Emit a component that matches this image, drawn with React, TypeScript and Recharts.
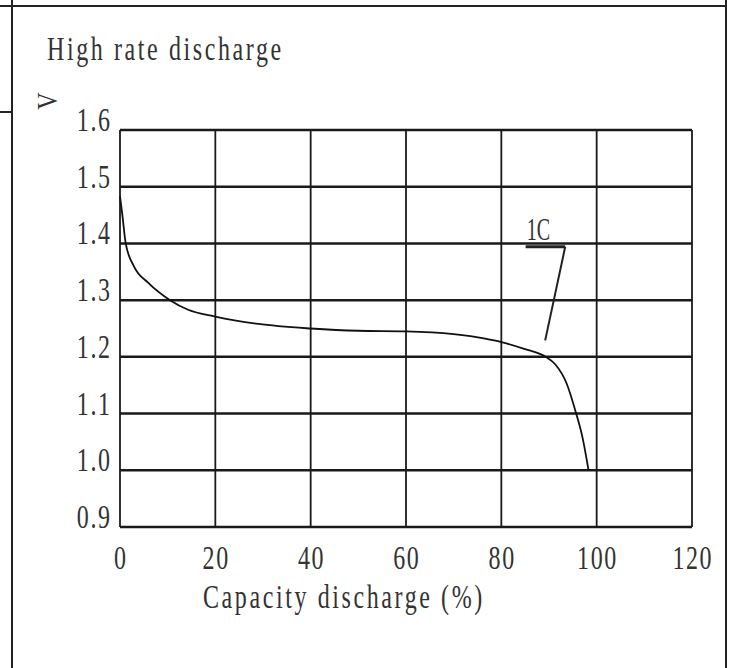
import React from 'react';
import { LineChart, Line, XAxis, YAxis, CartesianGrid, ReferenceLine, Customized } from 'recharts';

const capacity = [0, 0.5, 1.2, 2.9, 6, 10.5, 14.3, 20, 29, 40, 50, 60, 70, 76.6, 80, 84.8, 89.3, 91.3, 93.7, 95.7, 97, 98.3];
const voltage = [1.483, 1.45, 1.4, 1.36, 1.33, 1.3, 1.283, 1.271, 1.258, 1.25, 1.246, 1.245, 1.24, 1.232, 1.226, 1.214, 1.2, 1.187, 1.153, 1.1, 1.059, 1.0];
const xTicks = [0, 20, 40, 60, 80, 100, 120];
const yTicks = [0.9, 1.0, 1.1, 1.2, 1.3, 1.4, 1.5, 1.6];
const title = 'High rate discharge';
const xLabel = 'Capacity discharge (%)';
const yLabel = 'V';
const seriesName = '1C';
const annotX = [85.1, 93.4, 89.2];
const annotY = [1.394, 1.394, 1.229];

const data = capacity.map((c, i) => ({ c, v: voltage[i] }));

const FONT = '"Liberation Serif", serif';
const FS = 24;
const SY = 1.38;
const LS = 2.6;
const TLS = 1.6;
const COLOR = '#333';

const ScaledText = ({ x, y, anchor = 'start', children, size = FS, sy = SY, rotate = 0, ls = LS }: any) => (
  <g transform={`translate(${x},${y}) rotate(${rotate}) scale(1,${sy})`}>
    <text x={0} y={0} textAnchor={anchor} fontFamily={FONT} fontSize={size} fill={COLOR} letterSpacing={ls}>
      {children}
    </text>
  </g>
);

const YTick = (props: any) => {
  const { x, y, payload } = props;
  return <ScaledText x={x + TLS} y={y + 1} anchor="end" ls={TLS}>{Number(payload.value).toFixed(1)}</ScaledText>;
};

const XTick = (props: any) => {
  const { x, y, payload } = props;
  return <ScaledText x={x + TLS / 2} y={y + 42} anchor="middle" ls={TLS}>{String(payload.value)}</ScaledText>;
};

export default function App() {
  return (
    <div style={{ position: 'absolute', left: 0, top: 0, width: 733, height: 668, background: '#fff' }}>
      <div style={{ position: 'absolute', left: 0, top: 5, width: 727, height: 2, background: '#222' }} />
      <div style={{ position: 'absolute', left: 11, top: 0, width: 2, height: 668, background: '#222' }} />
      <div style={{ position: 'absolute', left: 725, top: 0, width: 2, height: 668, background: '#222' }} />
      <div style={{ position: 'absolute', left: 0, top: 111, width: 12, height: 2, background: '#222' }} />
      <div style={{ position: 'absolute', left: 0, top: 0 }}>
        <LineChart width={733} height={668} data={data} margin={{ top: 130, right: 41, left: 0, bottom: 0 }}>
          <CartesianGrid horizontal={true} vertical={false} stroke="#1a1a1a" strokeWidth={2.5} />
          <CartesianGrid horizontal={false} vertical={true} stroke="#1a1a1a" strokeWidth={1.8} />
          <XAxis
            dataKey="c"
            type="number"
            domain={[0, 120]}
            ticks={xTicks}
            interval={0}
            axisLine={false}
            tickLine={false}
            tickSize={0}
            tickMargin={0}
            height={141}
            tick={<XTick />}
            label={{
              content: (p: any) => (
                <ScaledText x={p.viewBox.x + 83} y={p.viewBox.y + 81}>{xLabel}</ScaledText>
              ),
            }}
          />
          <YAxis
            type="number"
            domain={[0.9, 1.6]}
            ticks={yTicks}
            interval={0}
            axisLine={false}
            tickLine={false}
            tickSize={0}
            tickMargin={10}
            width={120}
            tick={<YTick />}
            label={{
              content: (p: any) => (
                <ScaledText x={p.viewBox.x + 57} y={p.viewBox.y - 29} anchor="middle" rotate={-90} sy={1.2} ls={0}>{yLabel}</ScaledText>
              ),
            }}
          />
          <Line dataKey="v" type="monotone" stroke="#111" strokeWidth={1.8} dot={false} isAnimationActive={false} />
          <ReferenceLine
            segment={[{ x: annotX[0], y: annotY[0] }, { x: annotX[1], y: annotY[1] }]}
            stroke="#222"
            strokeWidth={3}
            label={{
              content: (p: any) => (
                <ScaledText x={p.viewBox.x + 1} y={p.viewBox.y - 7} size={20} sy={1.55} ls={0}>{seriesName}</ScaledText>
              ),
            }}
          />
          <ReferenceLine
            segment={[{ x: annotX[1], y: annotY[1] }, { x: annotX[2], y: annotY[2] }]}
            stroke="#222"
            strokeWidth={2}
          />
          <Customized component={() => <ScaledText x={47} y={60}>{title}</ScaledText>} />
        </LineChart>
      </div>
    </div>
  );
}
